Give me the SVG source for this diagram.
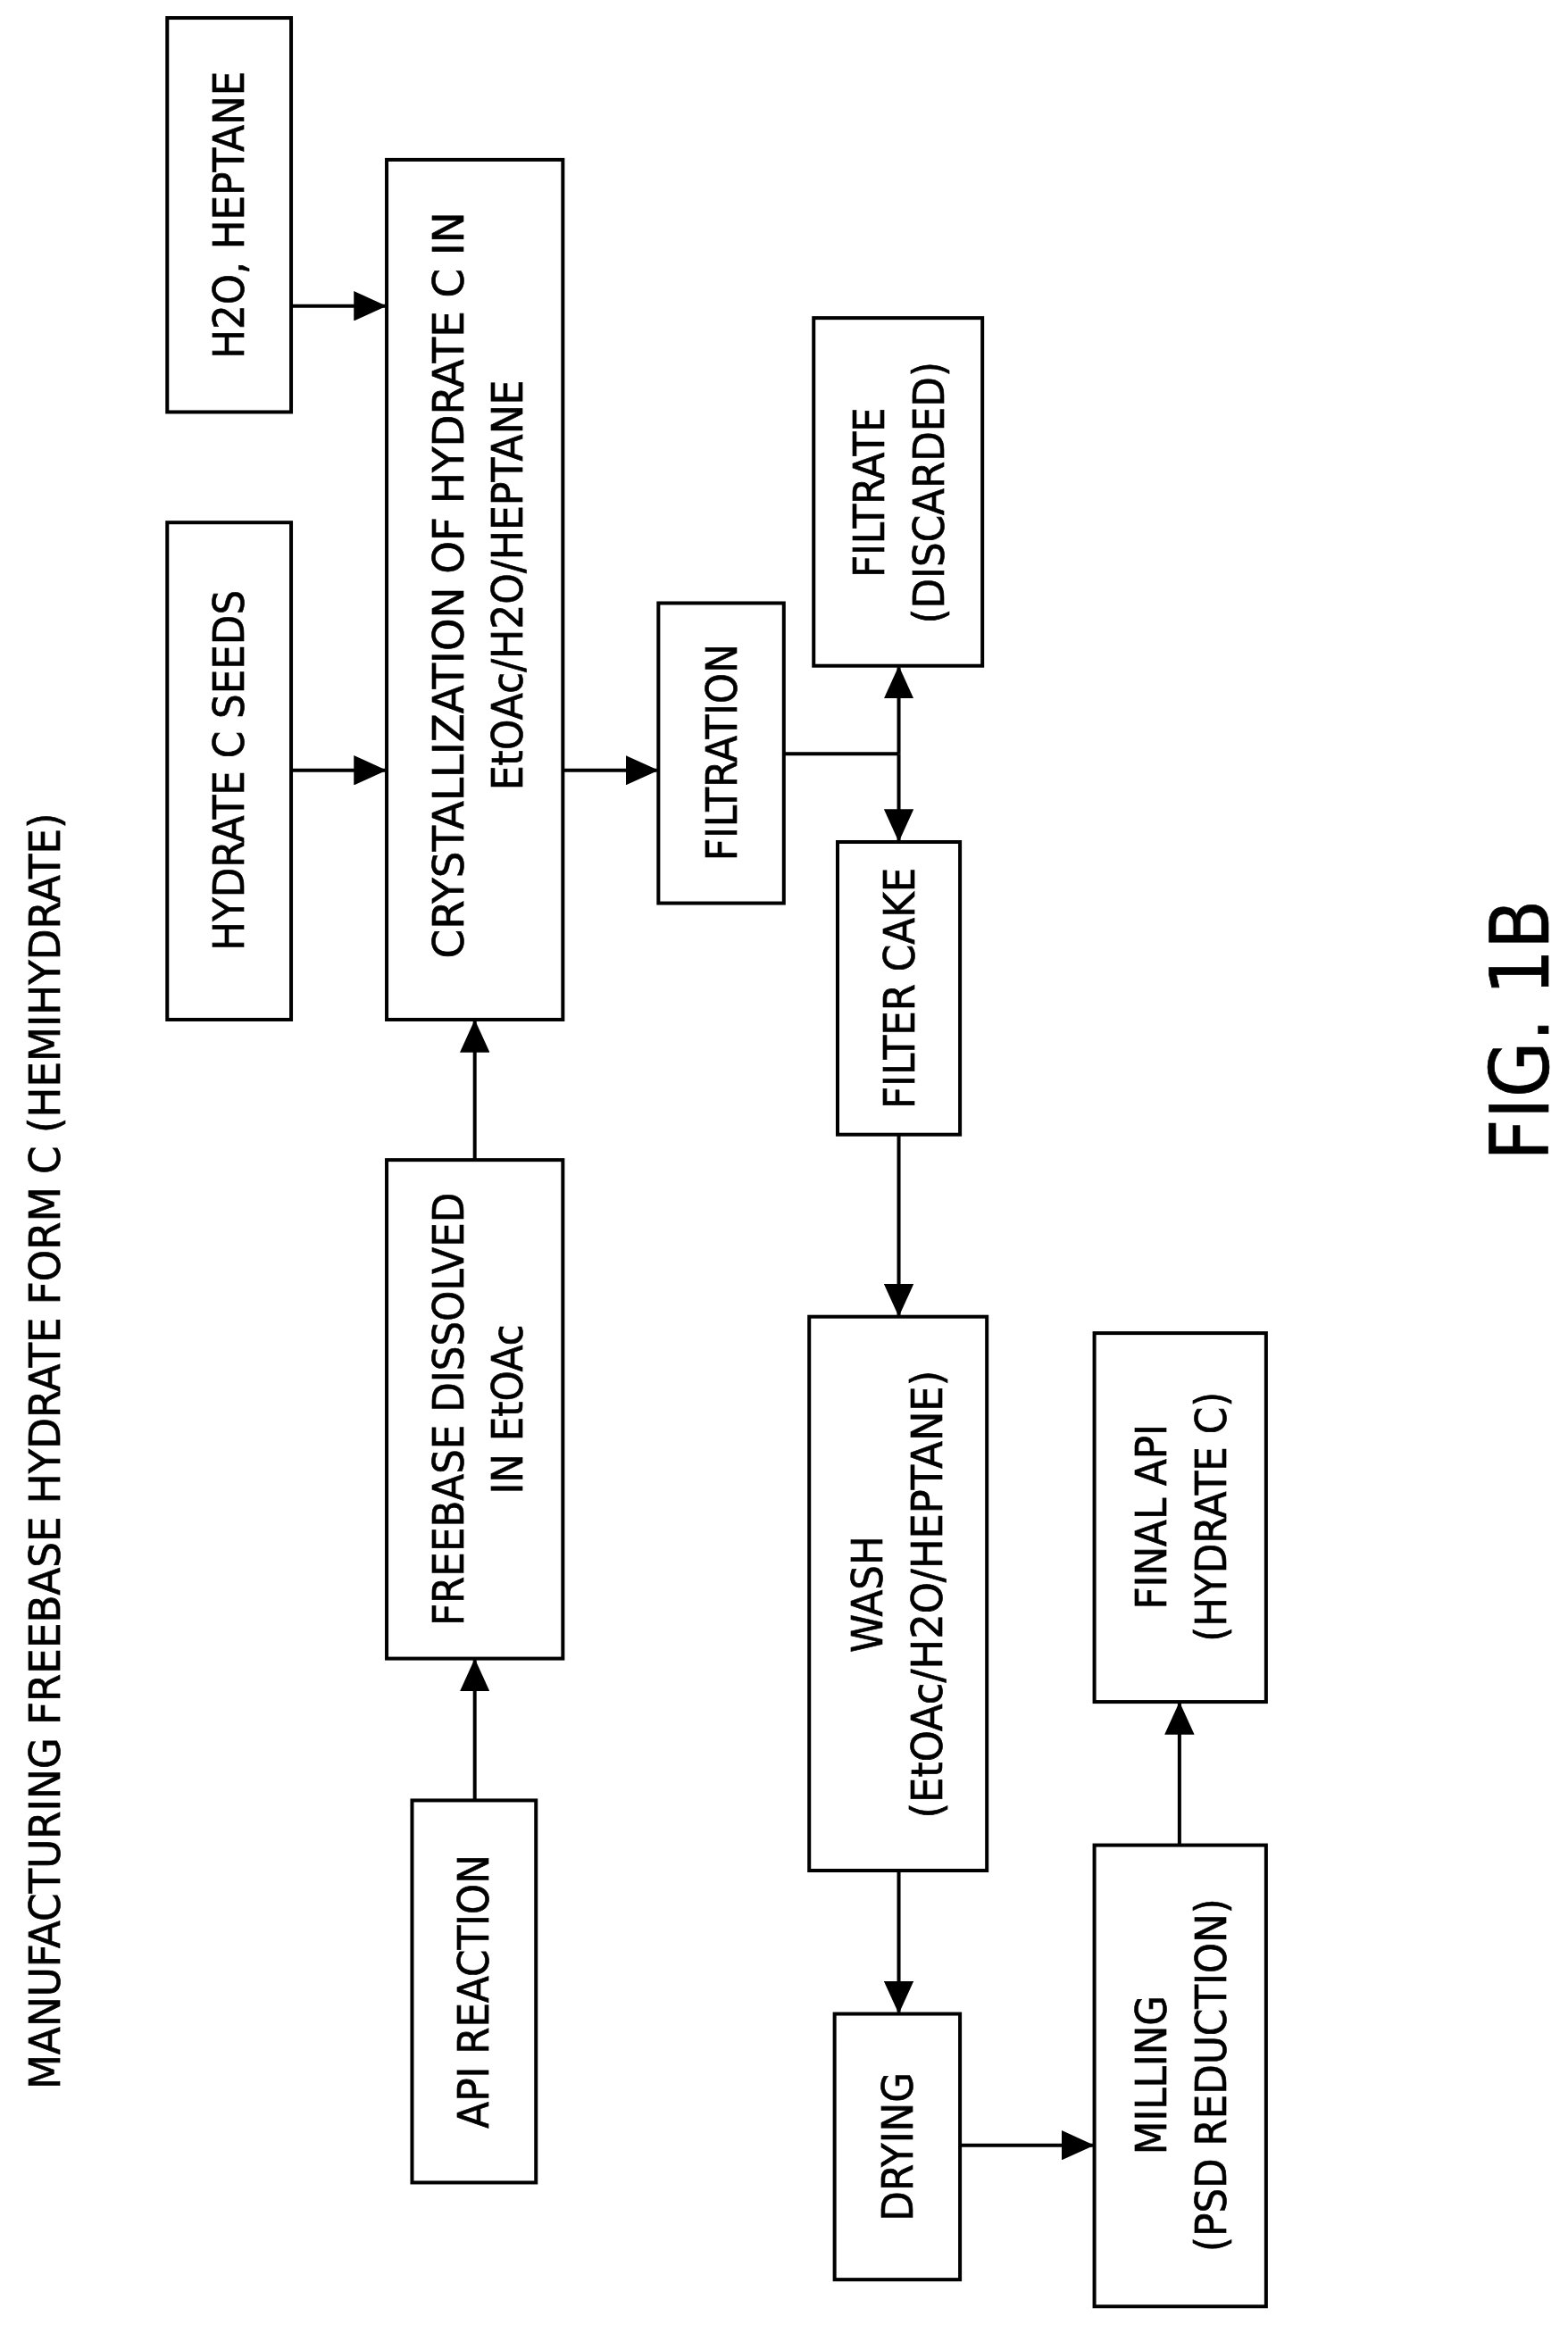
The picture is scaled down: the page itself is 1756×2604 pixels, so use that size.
<svg xmlns="http://www.w3.org/2000/svg" width="1756" height="2604" viewBox="0 0 1756 2604">
<style>
.b{fill:none;stroke:#000;stroke-width:2.4}
.t{font-family:"DejaVu Sans Condensed","DejaVu Sans",sans-serif;font-size:29px;text-anchor:middle;dominant-baseline:central;fill:#000;stroke:#000;stroke-width:0.4}
.c{fill:none;stroke:#000;stroke-width:2.4}
</style>
<defs><marker id="a" markerWidth="22" markerHeight="20" refX="21" refY="10" orient="auto" markerUnits="userSpaceOnUse"><path d="M0,0L22,10L0,20Z" fill="#000"/></marker></defs>
<rect width="1756" height="2604" fill="#fff"/>
<g transform="scale(1.672)">
<text class="t" transform="translate(30,972) rotate(-90)" textLength="855" lengthAdjust="spacingAndGlyphs">MANUFACTURING FREEBASE HYDRATE FORM C (HEMIHYDRATE)</text>
<text class="t" transform="translate(1018,690) rotate(-90)" style="font-size:54px">FIG. 1B</text>
<g id="h2o"><rect class="b" x="112" y="12" width="83" height="264"/><text class="t" transform="translate(153,144) rotate(-90)">H2O, HEPTANE</text></g>
<g id="seeds"><rect class="b" x="112" y="350" width="83" height="333"/><text class="t" transform="translate(153,516) rotate(-90)">HYDRATE C SEEDS</text></g>
<g id="cryst"><rect class="b" x="259" y="107" width="118" height="576"/><text class="t" transform="translate(300,392) rotate(-90)" textLength="500" lengthAdjust="spacingAndGlyphs">CRYSTALLIZATION OF HYDRATE C IN</text><text class="t" transform="translate(340,392) rotate(-90)" textLength="275" lengthAdjust="spacingAndGlyphs">EtOAc/H2O/HEPTANE</text></g>
<g id="freebase"><rect class="b" x="259" y="777" width="118" height="334"/><text class="t" transform="translate(300,944) rotate(-90)">FREEBASE DISSOLVED</text><text class="t" transform="translate(340,944) rotate(-90)">IN EtOAc</text></g>
<g id="api"><rect class="b" x="276" y="1206" width="83" height="256"/><text class="t" transform="translate(317,1334) rotate(-90)">API REACTION</text></g>
<g id="filtration"><rect class="b" x="441" y="404" width="84" height="201"/><text class="t" transform="translate(483,504) rotate(-90)">FILTRATION</text></g>
<g id="filtrate"><rect class="b" x="545" y="213" width="113" height="233"/><text class="t" transform="translate(582,330) rotate(-90)">FILTRATE</text><text class="t" transform="translate(622,330) rotate(-90)">(DISCARDED)</text></g>
<g id="cake"><rect class="b" x="561" y="564" width="82" height="196"/><text class="t" transform="translate(602,662) rotate(-90)">FILTER CAKE</text></g>
<g id="wash"><rect class="b" x="542" y="882" width="119" height="371"/><text class="t" transform="translate(581,1068) rotate(-90)">WASH</text><text class="t" transform="translate(621,1068) rotate(-90)" textLength="300" lengthAdjust="spacingAndGlyphs">(EtOAc/H2O/HEPTANE)</text></g>
<g id="drying"><rect class="b" x="559" y="1349" width="84" height="178"/><text class="t" transform="translate(601,1438) rotate(-90)">DRYING</text></g>
<g id="milling"><rect class="b" x="733" y="1236" width="115" height="309"/><text class="t" transform="translate(771,1390) rotate(-90)">MILLING</text><text class="t" transform="translate(811,1390) rotate(-90)">(PSD REDUCTION)</text></g>
<g id="final"><rect class="b" x="733" y="893" width="115" height="247"/><text class="t" transform="translate(771,1016) rotate(-90)">FINAL API</text><text class="t" transform="translate(811,1016) rotate(-90)">(HYDRATE C)</text></g>
<g id="connectors">
<path class="c" d="M195,205H258" marker-end="url(#a)"/>
<path class="c" d="M195,516H258" marker-end="url(#a)"/>
<path class="c" d="M318,777V684" marker-end="url(#a)"/>
<path class="c" d="M318,1206V1112" marker-end="url(#a)"/>
<path class="c" d="M377,516H440" marker-end="url(#a)"/>
<path class="c" d="M525,505H602"/>
<path class="c" d="M602,505V447" marker-end="url(#a)"/>
<path class="c" d="M602,505V563" marker-end="url(#a)"/>
<path class="c" d="M602,760V881" marker-end="url(#a)"/>
<path class="c" d="M602,1253V1348" marker-end="url(#a)"/>
<path class="c" d="M643,1437H732" marker-end="url(#a)"/>
<path class="c" d="M790,1236V1141" marker-end="url(#a)"/>
</g>
</g>
</svg>
